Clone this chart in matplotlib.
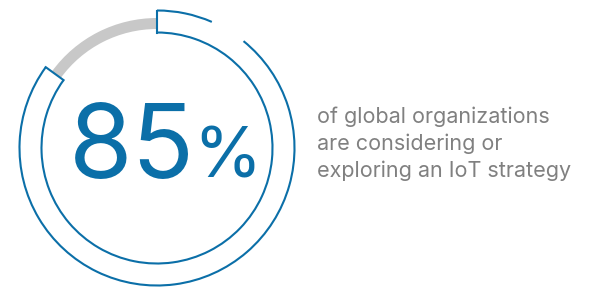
import numpy as np
import matplotlib
matplotlib.use("Agg")
import matplotlib.pyplot as plt
from matplotlib.patches import Arc, Wedge

# data
share = 85            # percent of organizations
rest = 100 - share
big_label = f"{share}"
caption_lines = ["of global organizations",
                 "are considering or",
                 "exploring an IoT strategy"]

BLUE = "#0b6fa8"
GREY_BAND = "#c8c8c8"
GREY_TEXT = "#808080"

W, H = 595, 287
fig = plt.figure(figsize=(W / 100, H / 100), dpi=100)
ax = fig.add_axes([0, 0, 1, 1])
ax.set_xlim(0, W)
ax.set_ylim(0, H)
ax.set_aspect("equal")
ax.axis("off")

cx, cy = 157, H - 148
r_out, r_in = 137.5, 115.5
lw = 1.5

start = 90                                  # top of the ring
end = start - share / 100 * 360             # blue goes clockwise
gap = (51, 66.5)                            # decorative break in outer edge

# grey remainder band
ax.add_patch(Wedge((cx, cy), 130, start, end + 360, width=11,
                   facecolor=GREY_BAND, edgecolor="none"))

# blue outline segment
ax.add_patch(Arc((cx, cy), 2 * r_in, 2 * r_in, theta1=end, theta2=start + 360,
                 color=BLUE, lw=lw))
ax.add_patch(Arc((cx, cy), 2 * r_out, 2 * r_out, theta1=end, theta2=gap[0] + 360,
                 color=BLUE, lw=lw))
ax.add_patch(Arc((cx, cy), 2 * r_out, 2 * r_out, theta1=gap[1], theta2=start,
                 color=BLUE, lw=lw))
for a in (start, end):
    t = np.deg2rad(a)
    ax.plot([cx + r_in * np.cos(t), cx + r_out * np.cos(t)],
            [cy + r_in * np.sin(t), cy + r_out * np.sin(t)],
            color=BLUE, lw=lw, solid_capstyle="projecting")

# big number
ax.text(69, H - 178, big_label, color=BLUE, fontsize=74, family="Inter",
        ha="left", va="baseline")
ax.text(193, H - 178, "%", color=BLUE, fontsize=50, family="Inter",
        ha="left", va="baseline")

# caption
for i, line in enumerate(caption_lines):
    ax.text(317, H - 123 - 27 * i, line, color=GREY_TEXT, fontsize=15.5,
            family="Inter", ha="left", va="baseline")

fig.savefig("out.png", dpi=100)
